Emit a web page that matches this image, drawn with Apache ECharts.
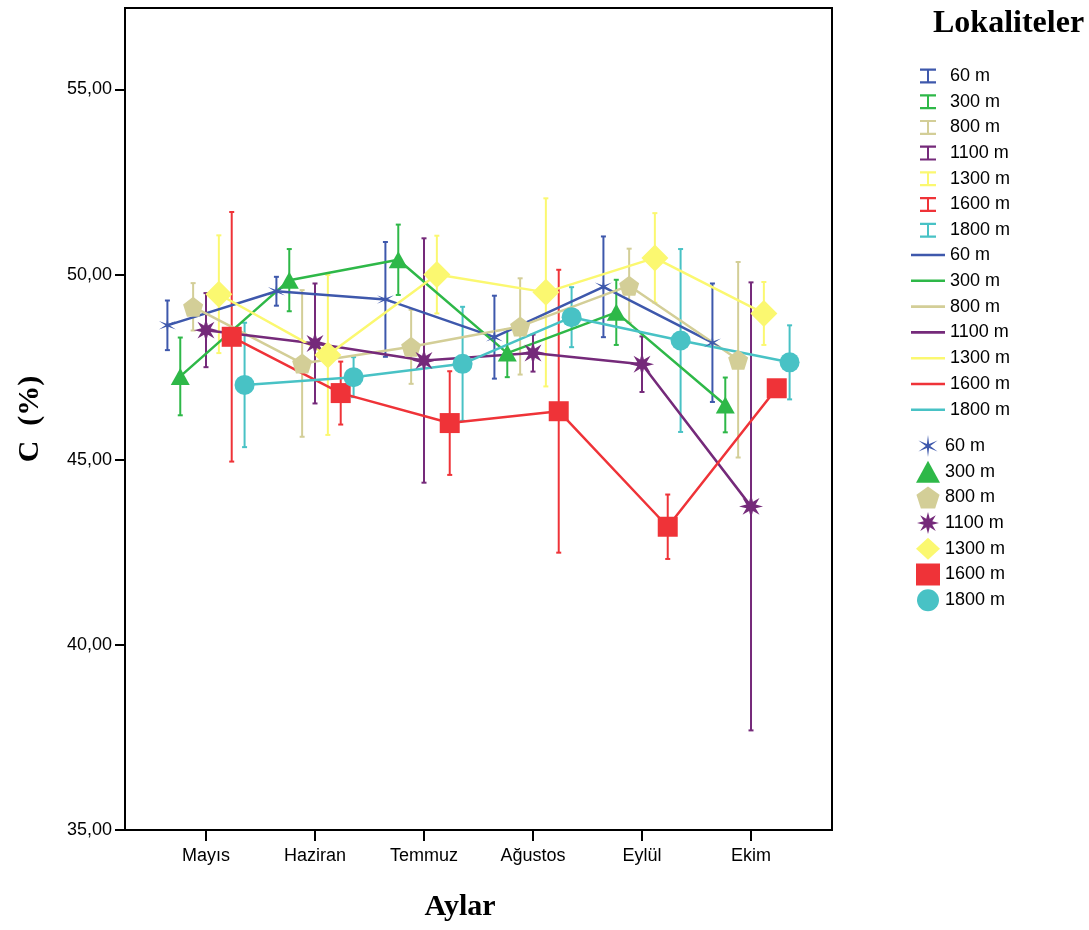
<!DOCTYPE html>
<html>
<head>
<meta charset="utf-8">
<script src="https://cdn.jsdelivr.net/npm/echarts@6/dist/echarts.min.js"></script>
<style>
html,body{margin:0;padding:0;background:#fff;}
#chart{width:1089px;height:930px;}
</style>
</head>
<body>
<div id="chart"></div>
<script>
// ---------- DATA ----------
const months = ['Mayıs', 'Haziran', 'Temmuz', 'Ağustos', 'Eylül', 'Ekim'];
const locations = ['60 m', '300 m', '800 m', '1100 m', '1300 m', '1600 m', '1800 m'];
const yTicks = [35, 40, 45, 50, 55];

const mean60   = [48.63, 49.55, 49.33, 48.31, 49.67, 48.16];
const mean300  = [47.25, 49.85, 50.40, 47.88, 48.98, 46.48];
const mean800  = [49.13, 47.60, 48.05, 48.60, 49.70, 47.70];
const mean1100 = [48.50, 48.14, 47.68, 47.88, 47.58, 43.74];
const mean1300 = [49.47, 47.83, 50.00, 49.52, 50.45, 48.95];
const mean1600 = [48.32, 46.80, 45.99, 46.31, 43.19, 46.93];
const mean1800 = [47.02, 47.23, 47.59, 48.85, 48.22, 47.63];

const err60   = [0.67, 0.39, 1.55, 1.12, 1.36, 1.60];
const err300  = [1.05, 0.84, 0.95, 0.65, 0.88, 0.74];
const err800  = [0.64, 1.98, 1.00, 1.30, 1.00, 2.64];
const err1100 = [1.00, 1.62, 3.30, 0.50, 0.75, 6.05];
const err1300 = [1.59, 2.16, 1.05, 2.54, 1.21, 0.85];
const err1600 = [3.37, 0.85, 1.40, 3.82, 0.87, 0.20];
const err1800 = [1.68, 0.54, 1.54, 0.81, 2.47, 1.00];

// ---------- STYLE ----------
const means = [mean60, mean300, mean800, mean1100, mean1300, mean1600, mean1800];
const errs  = [err60, err300, err800, err1100, err1300, err1600, err1800];
const colors = ['#3e58ac', '#2eb848', '#d3ce97', '#752a7a', '#fbf870', '#ef3338', '#48c2c5'];
const groupSpacing = 0.118;

function starPath(n, rIn) {
  const pts = [];
  for (let k = 0; k < 2 * n; k++) {
    const r = (k % 2) ? rIn : 1;
    const a = -Math.PI / 2 + k * Math.PI / n;
    pts.push((r * Math.cos(a)).toFixed(4) + ',' + (r * Math.sin(a)).toFixed(4));
  }
  return 'path://M' + pts.join(' L') + ' Z';
}
function polyPath(n) {
  const pts = [];
  for (let k = 0; k < n; k++) {
    const a = -Math.PI / 2 + k * 2 * Math.PI / n;
    pts.push(Math.cos(a).toFixed(4) + ',' + Math.sin(a).toFixed(4));
  }
  return 'path://M' + pts.join(' L') + ' Z';
}
const symbols = [starPath(6, 0.2), 'triangle', polyPath(5), starPath(8, 0.42), 'diamond', 'rect', 'circle'];
const symbolSizes = [17, [19, 17], 20, 24, 27, 20, 20];
const iBeam = 'path://M0,0 L16,0 L16,2.2 L9,2.2 L9,12.8 L16,12.8 L16,15 L0,15 L0,12.8 L7,12.8 L7,2.2 L0,2.2 Z';
const lineIcon = 'path://M0,0 L34,0 L34,2.6 L0,2.6 Z';

const sansFont = '"Liberation Sans", Arial, sans-serif';
const serifFont = '"Liberation Serif", "Times New Roman", serif';

const series = [];
const legendErr = [], legendLine = [], legendMark = [];

locations.forEach((loc, i) => {
  const off = (i - 3) * groupSpacing;
  const c = colors[i];
  const pts = months.map((m, j) => [j + off, means[i][j]]);
  const errData = months.map((m, j) => [j + off, means[i][j] - errs[i][j], means[i][j] + errs[i][j]]);
  series.push({
    name: 'e-' + loc,
    type: 'custom',
    z: 1,
    itemStyle: { color: c },
    encode: { x: 0, y: [1, 2] },
    data: errData,
    renderItem: function (params, api) {
      const x = api.value(0);
      const top = api.coord([x, api.value(2)]);
      const bot = api.coord([x, api.value(1)]);
      const hw = 2.5;
      const st = { stroke: c, lineWidth: 2 };
      return {
        type: 'group',
        children: [
          { type: 'line', shape: { x1: top[0], y1: top[1], x2: bot[0], y2: bot[1] }, style: st },
          { type: 'line', shape: { x1: top[0] - hw, y1: top[1], x2: top[0] + hw, y2: top[1] }, style: st },
          { type: 'line', shape: { x1: bot[0] - hw, y1: bot[1], x2: bot[0] + hw, y2: bot[1] }, style: st }
        ]
      };
    }
  });
  series.push({
    name: 'l-' + loc,
    type: 'line',
    z: 2,
    symbol: 'none',
    color: c,
    lineStyle: { color: c, width: 2.5 },
    data: pts
  });
  series.push({
    name: 's-' + loc,
    type: 'scatter',
    z: 3 + i * 0.01,
    symbol: symbols[i],
    symbolSize: symbolSizes[i],
    itemStyle: { color: c, opacity: 1 },
    data: pts
  });
  legendErr.push({ name: 'e-' + loc, icon: iBeam, itemStyle: { color: c } });
  legendLine.push({ name: 'l-' + loc, icon: lineIcon, itemStyle: { color: c } });
  legendMark.push({ name: 's-' + loc });
});

const legendCommon = {
  orient: 'vertical',
  selectedMode: false,
  formatter: n => n.slice(2),
  textStyle: { fontFamily: sansFont, fontSize: 18, color: '#000', lineHeight: 18 }
};

const chart = echarts.init(document.getElementById('chart'), null, { renderer: 'canvas' });
chart.setOption({
  animation: false,
  backgroundColor: '#fff',
  title: {
    text: 'Lokaliteler',
    left: 928, top: 3,
    textStyle: { fontFamily: serifFont, fontWeight: 'bold', fontSize: 32, color: '#000' }
  },
  legend: [
    Object.assign({}, legendCommon, { left: 915, top: 62, itemWidth: 34, itemHeight: 15, itemGap: 7.7, data: legendErr }),
    Object.assign({}, legendCommon, { left: 906, top: 241, itemWidth: 34, itemHeight: 18, itemGap: 7.8, data: legendLine }),
    Object.assign({}, legendCommon, { left: 911, top: 430, itemWidth: 24, itemHeight: 22, itemGap: 3.7, data: legendMark, itemStyle: { opacity: 1 } })
  ],
  grid: {
    left: 125, right: 257, top: 8, bottom: 100,
    show: true, borderColor: '#000', borderWidth: 2, backgroundColor: '#fff',
    containLabel: false, outerBoundsMode: 'none'
  },
  xAxis: {
    type: 'value',
    min: -0.743, max: 5.743,
    name: 'Aylar',
    nameLocation: 'middle',
    nameGap: 62,
    nameTextStyle: { fontFamily: serifFont, fontWeight: 'bold', fontSize: 30, color: '#000', padding: [0, 37, 0, 0] },
    axisLine: { show: true, onZero: false, lineStyle: { color: '#000', width: 2 } },
    axisTick: { show: true, length: 11, lineStyle: { color: '#000', width: 2 }, customValues: months.map((m, j) => j) },
    axisLabel: {
      customValues: months.map((m, j) => j),
      formatter: v => months[Math.round(v)] || '',
      fontFamily: sansFont, fontSize: 18, color: '#000', margin: 17
    },
    splitLine: { show: false }
  },
  yAxis: {
    type: 'value',
    min: 35, max: 57.2, interval: 5,
    name: 'C  (%)',
    nameLocation: 'middle',
    nameGap: 80,
    nameTextStyle: { fontFamily: serifFont, fontWeight: 'bold', fontSize: 30, color: '#000' },
    axisLine: { show: true, onZero: false, lineStyle: { color: '#000', width: 2 } },
    axisTick: { show: true, length: 10, lineStyle: { color: '#000', width: 2 }, customValues: yTicks },
    axisLabel: {
      customValues: yTicks,
      formatter: v => v.toFixed(2).replace('.', ','),
      fontFamily: sansFont, fontSize: 18, color: '#000', margin: 13
    },
    splitLine: { show: false }
  },
  series: series
});
</script>
</body>
</html>
